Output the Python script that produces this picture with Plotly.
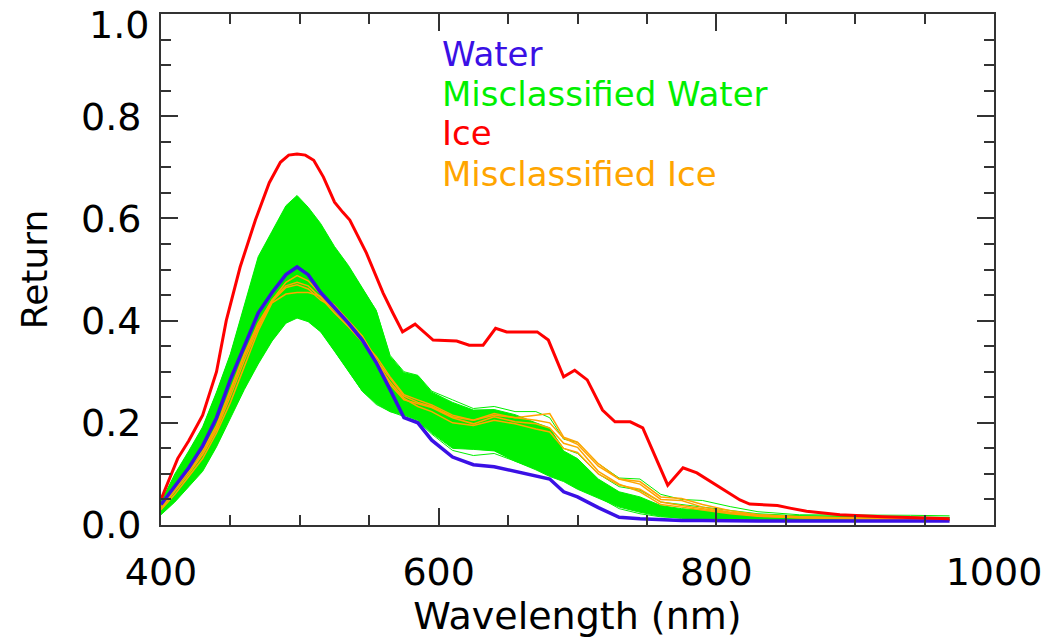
import plotly.graph_objects as go

# ---------------- data ----------------
# common wavelength grid for water / misclassified series
WL = [400, 410, 420, 430, 440, 450, 460, 470, 480, 490, 498, 506, 515, 525, 535,
      545, 555, 565, 575, 585, 595, 610, 625, 640, 655, 670, 680, 690, 700, 715,
      730, 745, 760, 775, 790, 810, 830, 860, 900, 940, 968]

WATER = [0.040, 0.075, 0.112, 0.155, 0.210, 0.285, 0.350, 0.415, 0.455, 0.490, 0.505,
         0.490, 0.455, 0.425, 0.395, 0.362, 0.318, 0.265, 0.210, 0.200, 0.166, 0.133,
         0.118, 0.114, 0.105, 0.096, 0.090, 0.065, 0.055, 0.034, 0.015, 0.012, 0.010,
         0.009, 0.009, 0.008, 0.008, 0.008, 0.008, 0.008, 0.008]

# misclassified water: envelope of the dense bundle of spectra
MW_UPPER = [0.045, 0.100, 0.145, 0.192, 0.260, 0.335, 0.430, 0.525, 0.575, 0.625, 0.645,
            0.622, 0.590, 0.545, 0.508, 0.465, 0.420, 0.330, 0.298, 0.292, 0.260, 0.240,
            0.225, 0.226, 0.216, 0.200, 0.190, 0.145, 0.130, 0.090, 0.065, 0.055, 0.038,
            0.032, 0.029, 0.023, 0.020, 0.018, 0.017, 0.016, 0.015]
MW_LOWER = [0.020, 0.045, 0.075, 0.105, 0.153, 0.210, 0.265, 0.315, 0.360, 0.395, 0.405,
            0.398, 0.378, 0.340, 0.300, 0.262, 0.238, 0.222, 0.215, 0.205, 0.180, 0.150,
            0.148, 0.145, 0.125, 0.108, 0.095, 0.085, 0.070, 0.053, 0.035, 0.025, 0.017,
            0.013, 0.012, 0.010, 0.010, 0.009, 0.009, 0.009, 0.009]
# a few individual misclassified-water spectra at the edges of the bundle
MW_LINE_A = [0.045, 0.098, 0.142, 0.190, 0.258, 0.332, 0.425, 0.520, 0.572, 0.622, 0.640,
             0.618, 0.585, 0.540, 0.505, 0.462, 0.420, 0.332, 0.300, 0.293, 0.262, 0.245,
             0.228, 0.232, 0.222, 0.222, 0.210, 0.168, 0.162, 0.120, 0.092, 0.090, 0.060,
             0.050, 0.048, 0.036, 0.026, 0.020, 0.020, 0.019, 0.018]
MW_LINE_B = [0.022, 0.048, 0.078, 0.108, 0.156, 0.214, 0.268, 0.318, 0.362, 0.397, 0.407,
             0.400, 0.380, 0.342, 0.302, 0.262, 0.236, 0.222, 0.212, 0.203, 0.178, 0.146,
             0.136, 0.140, 0.125, 0.110, 0.105, 0.090, 0.075, 0.055, 0.032, 0.022, 0.016,
             0.014, 0.012, 0.011, 0.010, 0.010, 0.010, 0.010, 0.010]
MW_LINE_C = [0.040, 0.085, 0.125, 0.170, 0.230, 0.300, 0.380, 0.460, 0.520, 0.568, 0.585,
             0.570, 0.540, 0.500, 0.462, 0.420, 0.370, 0.300, 0.262, 0.250, 0.232, 0.212,
             0.200, 0.208, 0.200, 0.195, 0.188, 0.150, 0.140, 0.100, 0.075, 0.068, 0.045,
             0.040, 0.036, 0.028, 0.022, 0.018, 0.016, 0.015, 0.014]

# misclassified ice spectra
MI_1 = [0.035, 0.070, 0.105, 0.140, 0.190, 0.260, 0.330, 0.390, 0.440, 0.475, 0.488,
        0.478, 0.452, 0.430, 0.400, 0.370, 0.325, 0.275, 0.245, 0.238, 0.230, 0.210,
        0.198, 0.212, 0.202, 0.198, 0.190, 0.160, 0.152, 0.105, 0.080, 0.065, 0.040,
        0.035, 0.030, 0.022, 0.017, 0.014, 0.012, 0.010, 0.010]
MI_2 = [0.030, 0.060, 0.095, 0.130, 0.180, 0.240, 0.310, 0.380, 0.435, 0.452, 0.455,
        0.455, 0.448, 0.420, 0.392, 0.360, 0.330, 0.290, 0.255, 0.245, 0.235, 0.215,
        0.205, 0.215, 0.210, 0.205, 0.200, 0.170, 0.158, 0.115, 0.090, 0.080, 0.050,
        0.048, 0.035, 0.025, 0.020, 0.016, 0.013, 0.011, 0.010]
MI_3 = [0.040, 0.075, 0.110, 0.145, 0.195, 0.265, 0.335, 0.395, 0.440, 0.468, 0.475,
        0.468, 0.445, 0.415, 0.388, 0.358, 0.322, 0.288, 0.252, 0.240, 0.232, 0.212,
        0.205, 0.218, 0.210, 0.215, 0.218, 0.172, 0.162, 0.120, 0.090, 0.085, 0.055,
        0.052, 0.040, 0.028, 0.020, 0.016, 0.014, 0.012, 0.010]
MI_4 = [0.032, 0.065, 0.100, 0.138, 0.186, 0.252, 0.322, 0.386, 0.438, 0.465, 0.470,
        0.462, 0.440, 0.425, 0.395, 0.362, 0.318, 0.280, 0.248, 0.232, 0.222, 0.200,
        0.195, 0.205, 0.198, 0.188, 0.182, 0.150, 0.142, 0.100, 0.078, 0.070, 0.045,
        0.038, 0.032, 0.024, 0.018, 0.014, 0.012, 0.010, 0.010]

# ice spectrum
ICE_WL = [400, 405, 412, 420, 430, 440, 447, 457, 468, 478, 486, 492, 498, 504, 510,
          517, 525, 531, 536, 548, 560, 567, 574, 583, 596, 613, 622, 632, 641, 649,
          671, 679, 690, 698, 707, 718, 727, 738, 747, 765, 776, 786, 803, 817, 824,
          844, 853, 865, 889, 920, 968]
ICE = [0.050, 0.085, 0.130, 0.165, 0.215, 0.300, 0.400, 0.505, 0.597, 0.670, 0.710,
       0.724, 0.726, 0.724, 0.714, 0.681, 0.632, 0.612, 0.597, 0.532, 0.454, 0.415,
       0.378, 0.393, 0.362, 0.360, 0.352, 0.352, 0.385, 0.378, 0.378, 0.362, 0.290,
       0.303, 0.284, 0.225, 0.202, 0.202, 0.190, 0.078, 0.112, 0.102, 0.072, 0.049,
       0.041, 0.038, 0.033, 0.027, 0.020, 0.016, 0.012]

X_TICKS = [400, 600, 800, 1000]
Y_TICKS = [0.0, 0.2, 0.4, 0.6, 0.8, 1.0]
Y_TICK_TEXT = ["0.0", "0.2", "0.4", "0.6", "0.8", "1.0"]

LABELS = ["Water", "Misclassified Water", "Ice", "Misclassified Ice"]
LABEL_Y = [0.922, 0.844, 0.767, 0.687]
LABEL_X = 601

BLUE = "#3a10e5"
GREEN = "#00f000"
RED = "#ff0000"
ORANGE = "#ffa500"
COLORS = [BLUE, GREEN, RED, ORANGE]

FONT = "DejaVu Sans"
TICK_SIZE = 38

# ---------------- figure ----------------
fig = go.Figure()

# misclassified water bundle
fig.add_trace(go.Scatter(x=WL, y=MW_LOWER, mode="lines",
                         line=dict(color=GREEN, width=1), hoverinfo="skip"))
fig.add_trace(go.Scatter(x=WL, y=MW_UPPER, mode="lines", fill="tonexty",
                         fillcolor=GREEN, line=dict(color=GREEN, width=1)))
for s in (MW_LINE_A, MW_LINE_B, MW_LINE_C):
    fig.add_trace(go.Scatter(x=WL, y=s, mode="lines", line=dict(color=GREEN, width=1)))

# misclassified ice
for s in (MI_1, MI_2, MI_3, MI_4):
    fig.add_trace(go.Scatter(x=WL, y=s, mode="lines", line=dict(color=ORANGE, width=1.5)))

# water
fig.add_trace(go.Scatter(x=WL, y=WATER, mode="lines", line=dict(color=BLUE, width=3.5)))
# ice
fig.add_trace(go.Scatter(x=ICE_WL, y=ICE, mode="lines", line=dict(color=RED, width=3)))

for txt, yy, col in zip(LABELS, LABEL_Y, COLORS):
    fig.add_annotation(x=LABEL_X, y=yy, xref="x", yref="y", text=txt,
                       showarrow=False, xanchor="left", yanchor="middle",
                       font=dict(family=FONT, size=34, color=col))

# top y tick label sits just below the frame top (as in the reference)
fig.add_annotation(x=0, xref="paper", y=Y_TICKS[-1], yref="y", text=Y_TICK_TEXT[-1],
                   showarrow=False, xanchor="right", yanchor="top",
                   xshift=-10, yshift=13,
                   font=dict(family=FONT, size=TICK_SIZE, color="black"))

axis_common = dict(
    showline=True, linecolor="#333333", linewidth=2, mirror="ticks",
    ticks="inside", ticklen=17, tickwidth=2, tickcolor="#333333",
    showgrid=False, zeroline=False, automargin=False,
    tickfont=dict(family=FONT, size=TICK_SIZE, color="black"),
)

fig.update_xaxes(range=[400, 1000], tickmode="array", tickvals=X_TICKS,
                 ticktext=[str(v) for v in X_TICKS], ticklabeloverflow="allow",
                 minor=dict(ticks="inside", ticklen=10, tickwidth=2,
                            tickcolor="#333333", dtick=50, tick0=400, showgrid=False),
                 ticklabelstandoff=12,
                 title=dict(text="Wavelength (nm)", standoff=10,
                            font=dict(family=FONT, size=38, color="black")),
                 **axis_common)
fig.update_yaxes(range=[0, 1.0002], tickmode="array", tickvals=Y_TICKS,
                 ticktext=Y_TICK_TEXT[:-1] + [""],
                 minor=dict(ticks="inside", ticklen=10, tickwidth=2,
                            tickcolor="#333333", dtick=0.05, tick0=0, showgrid=False),
                 ticklabelstandoff=10,
                 title=dict(text="Return", standoff=22,
                            font=dict(family=FONT, size=36, color="black")),
                 **axis_common)

fig.update_layout(
    width=1050, height=639,
    margin=dict(l=161, r=56, t=14, b=114),
    paper_bgcolor="white", plot_bgcolor="white",
    showlegend=False,
)

fig.write_html("out.html")
